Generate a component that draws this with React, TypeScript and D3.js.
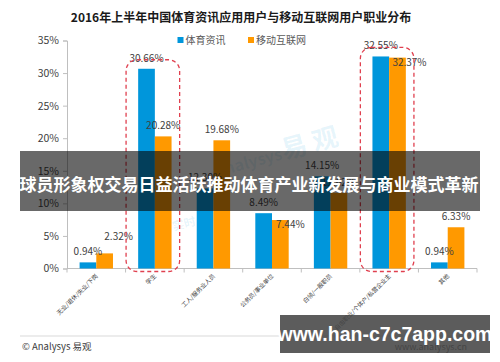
import { useEffect, useRef } from 'react';
import * as d3 from 'd3';

const categories = ['无业/退休/失业/下岗', '学生', '工人/服务业人员', '公务员/事业单位', '白领/一般职员', '自由职业/个体户/私营企业主', '其他'];
const seriesNames = ['体育资讯', '移动互联网'];
const sportsValues = [0.94, 30.66, 12.3, 8.49, 14.15, 32.55, 0.94];
const mobileValues = [2.32, 20.28, 19.68, 7.44, 11.62, 32.37, 6.33];
const yTicks = [0, 5, 10, 15, 20, 25, 30, 35];
const highlighted = ['学生', '自由职业/个体户/私营企业主'];

const title = '2016年上半年中国体育资讯应用用户与移动互联网用户职业分布';
const bannerText = '球员形象权交易日益活跃推动体育产业新发展与商业模式革新';
const colors = ['#0096db', '#ff9900'];
const font = '"Noto Sans CJK SC", "Noto Sans", sans-serif';

// excel-ish label placement that does not sit centered over the bar
const labelNudge: Record<string, [number, number]> = {
    '0-1': [14, -6],
    '3-1': [10, 15],
    '5-1': [12, 15],
};

function App() {
    const svgRef = useRef<SVGSVGElement>(null);

    useEffect(() => {
        if (!svgRef.current) return;
        const svg = d3.select(svgRef.current);
        svg.selectAll('*').remove();

        const W = 500, H = 362;
        const left = 67, right = 477, top = 40.5, bottom = 268.5;

        svg.append('rect').attr('width', W).attr('height', H).attr('fill', '#fff');

        const x0 = d3.scaleBand<string>().domain(categories).range([left, right]).paddingInner(0.43).paddingOuter(0.215);
        const x1 = d3.scaleBand<string>().domain(seriesNames).range([0, x0.bandwidth()]);
        const y = d3.scaleLinear().domain([0, 35]).range([bottom, top]);

        // title
        svg.append('text')
            .attr('x', 241).attr('y', 22)
            .attr('text-anchor', 'middle')
            .attr('font-family', font).attr('font-weight', 'bold').attr('font-size', 12)
            .attr('fill', '#1a1a1a')
            .text(title);

        // faint watermark
        const wm = svg.append('g').attr('fill', '#0096db').attr('fill-opacity', 0.1).attr('font-family', font).attr('font-weight', 'bold');
        wm.append('text').attr('transform', 'translate(312,152) rotate(-15)').attr('text-anchor', 'middle').attr('font-size', 26).text('易 观');
        wm.append('text').attr('transform', 'translate(250,168) rotate(-15)').attr('text-anchor', 'middle').attr('font-size', 16).text('analysys');
        wm.append('text').attr('transform', 'translate(185,228) rotate(-15)').attr('text-anchor', 'middle').attr('font-size', 12).text('实时');

        // y axis
        const yAxis = svg.append('g')
            .attr('transform', `translate(${left},0)`)
            .call(d3.axisLeft(y).tickValues(yTicks).tickFormat((d) => `${d}%`).tickSize(4).tickPadding(4));
        yAxis.select('.domain').attr('stroke', '#bfbfbf');
        yAxis.selectAll('.tick line').attr('stroke', '#bfbfbf');
        yAxis.selectAll('.tick text').attr('font-family', font).attr('font-size', 10.5).attr('fill', '#404040');

        // x axis
        svg.append('line').attr('x1', left).attr('x2', right).attr('y1', bottom).attr('y2', bottom).attr('stroke', '#bfbfbf');
        const step = x0.step();
        const edge = (step - x0.bandwidth()) / 2;
        categories.forEach((c, i) => {
            const bx = x0(c)! - edge;
            svg.append('line').attr('x1', bx).attr('x2', bx).attr('y1', bottom).attr('y2', bottom + 4).attr('stroke', '#bfbfbf');
            if (i === categories.length - 1) {
                svg.append('line').attr('x1', bx + step).attr('x2', bx + step).attr('y1', bottom).attr('y2', bottom + 4).attr('stroke', '#bfbfbf');
            }
            const cx = x0(c)! + x0.bandwidth() / 2;
            svg.append('text')
                .attr('transform', `translate(${cx + 2},${bottom + 8}) rotate(-45)`)
                .attr('text-anchor', 'end')
                .attr('font-family', font).attr('font-size', 6)
                .attr('fill', '#404040')
                .text(c);
        });

        // bars
        const series = [sportsValues, mobileValues];
        series.forEach((vals, si) => {
            svg.append('g').selectAll('rect')
                .data(vals)
                .join('rect')
                .attr('x', (_, i) => x0(categories[i])! + x1(seriesNames[si])!)
                .attr('y', (d) => y(d))
                .attr('width', x1.bandwidth())
                .attr('height', (d) => bottom - y(d))
                .attr('fill', colors[si]);
        });

        // value labels
        series.forEach((vals, si) => {
            vals.forEach((v, i) => {
                const n = labelNudge[`${i}-${si}`] ?? [0, 0];
                svg.append('text')
                    .attr('x', x0(categories[i])! + x1(seriesNames[si])! + x1.bandwidth() / 2 + n[0])
                    .attr('y', y(v) - 7 + n[1])
                    .attr('text-anchor', 'middle')
                    .attr('font-family', font).attr('font-size', 10)
                    .attr('fill', '#404040')
                    .text(`${v.toFixed(2)}%`);
            });
        });

        // dashed highlight boxes
        highlighted.forEach((c) => {
            const i = categories.indexOf(c);
            const maxV = Math.max(sportsValues[i], mobileValues[i]);
            const bx = x0(c)! - edge;
            svg.append('rect')
                .attr('x', bx + 0.5)
                .attr('y', y(maxV) - 9)
                .attr('width', step - 5)
                .attr('height', bottom + 3 - (y(maxV) - 9))
                .attr('rx', 11)
                .attr('fill', 'none')
                .attr('stroke', '#e0404f')
                .attr('stroke-width', 1.3)
                .attr('stroke-dasharray', '4,3');
        });

        // legend
        const lg = svg.append('g').attr('font-family', font).attr('font-size', 10).attr('fill', '#595959');
        const legendX = [177.5, 248];
        seriesNames.forEach((s, i) => {
            lg.append('rect').attr('x', legendX[i]).attr('y', 37).attr('width', 6).attr('height', 6).attr('fill', colors[i]);
            lg.append('text').attr('x', legendX[i] + 8).attr('y', 44).text(s);
        });

        // footer
        svg.append('line').attr('x1', 20).attr('x2', 482).attr('y1', 336).attr('y2', 336).attr('stroke', '#d9d9d9');
        svg.append('text')
            .attr('x', 22).attr('y', 350)
            .attr('font-family', font).attr('font-size', 9.5).attr('fill', '#404040')
            .text('© Analysys 易观');
        svg.append('text')
            .attr('x', 467).attr('y', 350)
            .attr('text-anchor', 'end')
            .attr('font-family', font).attr('font-size', 9).attr('fill', '#404040')
            .text('www.analysys.cn');

        // headline banner over the chart
        svg.append('rect').attr('x', 20).attr('y', 151).attr('width', 460).attr('height', 60).attr('fill', 'rgb(5,5,5)').attr('fill-opacity', 0.6);
        svg.append('text')
            .attr('x', 249).attr('y', 191)
            .attr('text-anchor', 'middle')
            .attr('font-family', font).attr('font-weight', 'bold').attr('font-size', 17)
            .attr('fill', '#fff')
            .text(bannerText);

        // site watermark box
        svg.append('rect').attr('x', 280).attr('y', 315).attr('width', 210).attr('height', 38).attr('fill', 'rgb(70,70,70)').attr('fill-opacity', 0.88);
        svg.append('text')
            .attr('x', 385).attr('y', 341)
            .attr('text-anchor', 'middle')
            .attr('font-family', '"Liberation Sans", Arial, sans-serif').attr('font-weight', 'bold').attr('font-size', 19.5)
            .attr('fill', '#fff')
            .text('www.han-c7c7app.com');
    }, []);

    return (
        <svg ref={svgRef} width={500} height={362} style={{ position: 'absolute', left: 0, top: 0 }}></svg>
    );
}

export default App;
